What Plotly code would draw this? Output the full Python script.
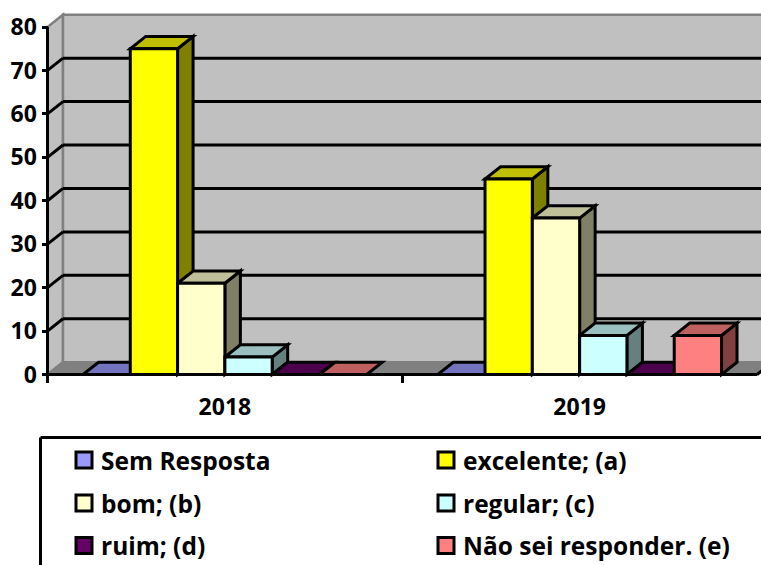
import plotly.graph_objects as go

W, H = 761, 565
categories = ["2018", "2019"]
series_names = ["Sem Resposta", "excelente; (a)", "bom; (b)", "regular; (c)", "ruim; (d)", "Não sei responder. (e)"]
values_2018 = [0, 75, 21, 4, 0, 0]
values_2019 = [0, 45, 36, 9, 0, 9]
series_rgb = [(153, 153, 255), (255, 255, 0), (255, 255, 204), (204, 255, 255), (102, 0, 102), (255, 128, 128)]
y_ticks = [0, 10, 20, 30, 40, 50, 60, 70, 80]

# pixel frame of the chart (front plane)
PX_LEFT, PX_RIGHT, PX_ZERO, PX_80 = 47.5, 757.0, 374.5, 27.0
X_UNIT = (PX_RIGHT - PX_LEFT) / len(categories)
Y_UNIT = (PX_ZERO - PX_80) / 80
DX = 15.5 / X_UNIT
DY = 12.3 / Y_UNIT
BAR_W = 0.8 / len(series_names)
LW = 3
FONT = "Open Sans"


def shade(rgb, f):
    return "rgb(%d,%d,%d)" % tuple(round(c * f) for c in rgb)


def poly(pts, fill, color="black", width=LW, layer="below"):
    path = "M " + " L ".join(f"{x},{y}" for x, y in pts) + " Z"
    return dict(type="path", path=path, xref="x", yref="y", fillcolor=fill, layer=layer,
                line=dict(color=color, width=width))


def seg(x0, y0, x1, y1, color="black", width=LW, layer="below"):
    return dict(type="line", x0=x0, y0=y0, x1=x1, y1=y1, xref="x", yref="y", layer=layer,
                line=dict(color=color, width=width))


n = len(categories)
top_v = y_ticks[-1]
shapes = [
    poly([(0, 0), (DX, DY), (DX, top_v + DY), (0, top_v)], "#C0C0C0", "#808080", 2.5),
    poly([(DX, DY), (n + DX, DY), (n + DX, top_v + DY), (DX, top_v + DY)], "#C0C0C0", "#808080", 2.5),
    poly([(0, 0), (n, 0), (n + DX, DY), (DX, DY)], "#808080", "#808080", 2.5),
]
for v in y_ticks[1:-1]:
    shapes.append(seg(0, v, DX, v + DY))
    shapes.append(seg(DX, v + DY, n + DX, v + DY))
shapes.append(seg(0, 0, n, 0))
shapes.append(seg(n, 0, n + DX, DY))
shapes.append(seg(0, 0, 0, top_v))

# depth faces, left to right
for c, vals in enumerate([values_2018, values_2019]):
    for i, v in enumerate(vals):
        x0 = c + 0.1 + i * BAR_W
        x1 = x0 + BAR_W
        rgb = series_rgb[i]
        if v > 0:
            shapes.append(poly([(x1, 0), (x1 + DX, DY), (x1 + DX, v + DY), (x1, v)], shade(rgb, 0.5)))
        shapes.append(poly([(x0, v), (x1, v), (x1 + DX, v + DY), (x0 + DX, v + DY)], shade(rgb, 0.75)))

fig = go.Figure()
centers = [i + 0.5 for i in range(n)]
for i, name in enumerate(series_names):
    fig.add_trace(go.Bar(
        x=centers, y=[values_2018[i], values_2019[i]], name=name,
        marker=dict(color=shade(series_rgb[i], 1), line=dict(color="black", width=LW)),
        showlegend=False,
    ))

# legend box and entries
LEG_LEFT, LEG_TOP = 40.5, 437.5
paper_x = lambda p: p / W
paper_y = lambda p: 1 - p / H
shapes.append(dict(type="line", xref="paper", yref="paper", x0=paper_x(LEG_LEFT), x1=paper_x(LEG_LEFT),
                   y0=0, y1=paper_y(LEG_TOP), line=dict(color="black", width=LW)))
shapes.append(dict(type="line", xref="paper", yref="paper", x0=paper_x(LEG_LEFT), x1=1,
                   y0=paper_y(LEG_TOP), y1=paper_y(LEG_TOP), line=dict(color="black", width=LW)))
annotations = []
col_x = [76, 438]
row_y = [460, 503, 545.5]
for i, name in enumerate(series_names):
    sx, sy = col_x[i % 2], row_y[i // 2]
    shapes.append(dict(type="rect", xref="paper", yref="paper",
                       x0=paper_x(sx), x1=paper_x(sx + 16), y0=paper_y(sy - 8), y1=paper_y(sy + 8),
                       fillcolor=shade(series_rgb[i], 1), line=dict(color="black", width=LW)))
    annotations.append(dict(text=name, xref="paper", yref="paper", x=paper_x(sx + 23), y=paper_y(sy),
                            xanchor="left", yanchor="middle", showarrow=False,
                            font=dict(family=FONT, size=24.5, color="black", weight=700)))

fig.update_layout(
    width=W, height=H, margin=dict(l=0, r=0, t=0, b=0, pad=0),
    paper_bgcolor="white", plot_bgcolor="white",
    barmode="group", bargap=0.2, bargroupgap=0,
    showlegend=False, shapes=shapes, annotations=annotations,
    xaxis=dict(range=[-PX_LEFT / X_UNIT, (W - PX_LEFT) / X_UNIT], domain=[0, 1],
               anchor="free", position=1 - PX_ZERO / H,
               tickvals=centers, ticktext=categories, ticks="", showgrid=False, zeroline=False,
               showline=False, ticklabelstandoff=16,
               tickfont=dict(family=FONT, size=23, color="black", weight=700),
               minor=dict(tickvals=[0, 1], ticks="outside", ticklen=7, tickwidth=2.5, tickcolor="black",
                          showgrid=False)),
    yaxis=dict(range=[(PX_ZERO - H) / Y_UNIT, PX_ZERO / Y_UNIT], domain=[0, 1],
               anchor="free", position=PX_LEFT / W,
               tickvals=y_ticks, ticks="outside", ticklen=6, tickwidth=2.5, tickcolor="black",
               showgrid=False, zeroline=False, showline=False,
               tickfont=dict(family=FONT, size=23, color="black", weight=700)),
)
fig.write_html("out.html", config={"displayModeBar": False},
               post_script="document.body.style.margin='0';document.documentElement.style.overflow='hidden';")
